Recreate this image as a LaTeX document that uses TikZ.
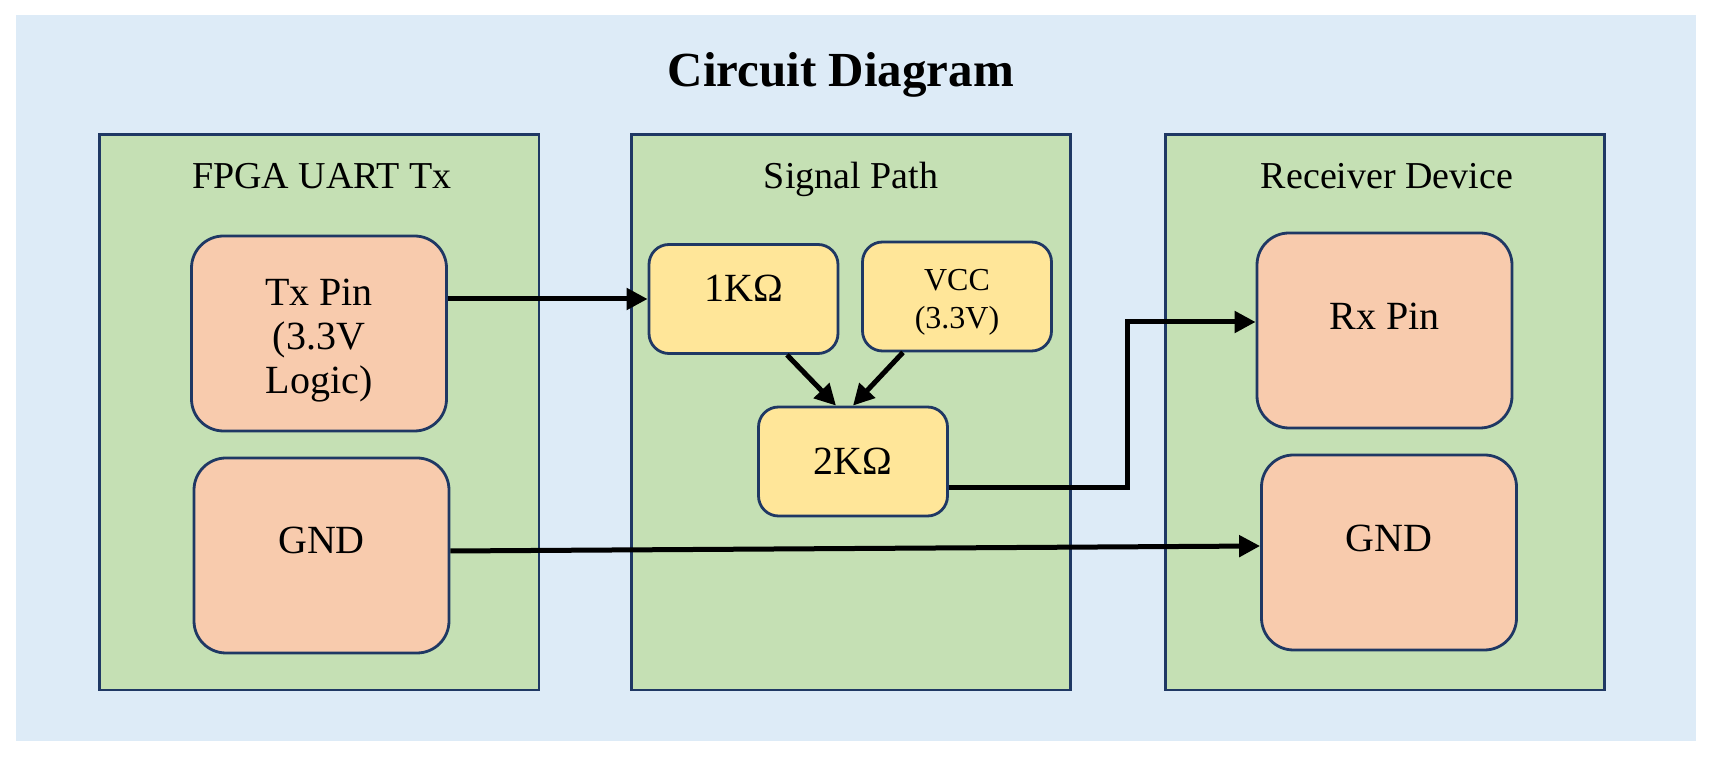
\documentclass[tikz,border=0pt]{standalone}
\usepackage{fontspec}
\setmainfont{Liberation Serif}
\usetikzlibrary{arrows.meta}
\definecolor{sky}{HTML}{DDEBF7}
\definecolor{leaf}{HTML}{C5E0B4}
\definecolor{peach}{HTML}{F8CBAD}
\definecolor{butter}{HTML}{FFE699}
\definecolor{navy}{HTML}{1F3864}
\tikzset{
  cluster/.style={draw=navy,line width=1.4pt,fill=leaf,minimum width=219.75pt,minimum height=277.75pt,inner sep=0pt},
  pin/.style={draw=navy,line width=1.4pt,fill=peach,rounded corners=16pt,minimum width=127.5pt,minimum height=97.5pt,inner sep=0pt},
  part/.style={draw=navy,line width=1.4pt,fill=butter,rounded corners=10pt,minimum width=94.5pt,minimum height=54.5pt,inner sep=0pt,font=\fontsize{20}{22}\selectfont},
  heading/.style={anchor=base,font=\fontsize{19}{22}\selectfont},
  intext/.style={yshift=#1,align=center,font=\fontsize{20}{22}\selectfont},
  wire/.style={line width=2.5pt,-{Triangle[length=10.5pt,width=10.5pt]}},
}
\begin{document}
\begin{tikzpicture}[x=0.5pt,y=-0.5pt]
    \useasboundingbox (0,0) rectangle (1715,758);
    \fill[sky] (16,15) rectangle (1696,741);
    \node[anchor=base,font=\fontsize{24.5}{28}\selectfont\bfseries] (title) at (841,87) {Circuit Diagram};
    % three blocks
    \node[cluster] (fpga) at (319.25,412.25) {};
    \node[cluster] (path) at (851,412.25) {};
    \node[cluster] (recv) at (1385,412.25) {};
    \node[heading] (fpgatext) at (322,189) {FPGA UART Tx};
    \node[heading] (pathtext) at (851,189) {Signal Path};
    \node[heading] (recvtext) at (1387,189) {Receiver Device};
    % pins and parts
    \node[pin,label={[intext=-3.5pt]center:{Tx Pin\\(3.3V\\Logic)}}] (tx) at (319,333.5) {};
    \node[pin,label={[intext=7.5pt]center:GND}] (gndl) at (321.5,555.5) {};
    \node[pin,label={[intext=7.25pt]center:Rx Pin}] (rx) at (1384.5,330.5) {};
    \node[pin,label={[intext=7.25pt]center:GND}] (gndr) at (1389,552.5) {};
    \node[part,label={[intext=5.5pt]center:1KΩ}] (r1) at (743.5,299) {};
    \node[part,label={[intext=-3pt,font=\fontsize{16}{19}\selectfont]center:{VCC\\(3.3V)}}] (vcc) at (957,296.5) {};
    \node[part] (r2) at (853,461.5) {2KΩ};
    % wires
    \coordinate (bend) at (1127,0);
    \coordinate (rxin) at ([yshift=4.25pt]rx.west);
    \draw[wire] (tx.east |- r1.west) -- (r1.west);
    \draw[wire] ([xshift=21.75pt]r1.south) -- ([xshift=-8.5pt]r2.north);
    \draw[wire] ([xshift=-27pt]vcc.south) -- (r2.north);
    \draw[wire] ([yshift=-13.25pt]r2.east) -| (bend |- rxin) -- (rxin);
    \draw[wire] ([yshift=2.25pt]gndl.east) -- ([yshift=3.25pt]gndr.west);
\end{tikzpicture}
\end{document}
